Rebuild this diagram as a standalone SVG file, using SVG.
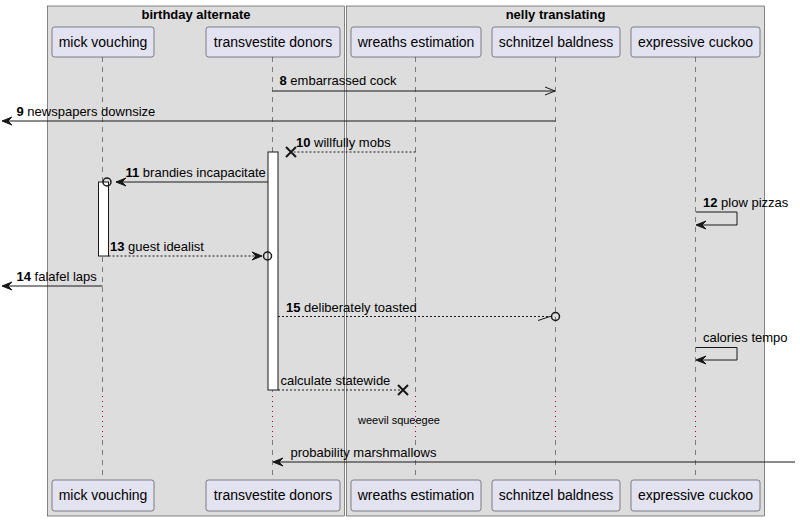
<svg xmlns="http://www.w3.org/2000/svg" width="800" height="521" viewBox="0 0 800 521">
<defs>
<style>
text{font-family:"Liberation Sans",Arial,sans-serif;fill:#000}
.box{fill:#DDDDDD;stroke:#181818;stroke-width:0.5}
.btitle{font-size:13px;font-weight:bold;text-anchor:middle}
.part rect{fill:#E2E2F0;stroke:#181818;stroke-width:0.5}
.part text{font-size:14px;text-anchor:middle}
.life{stroke:#181818;stroke-width:0.5;stroke-dasharray:5,5;fill:none}
.delay{stroke:#A80036;stroke-width:1;stroke-dasharray:1,4;fill:none}
.act{fill:#FFFFFF;stroke:#181818;stroke-width:1}
.msg{stroke:#181818;stroke-width:1;fill:none}
.dash{stroke-dasharray:2,2}
.head{fill:#181818;stroke:#181818;stroke-width:1}
.lbl{font-size:13px}
.num{font-weight:bold}
.x{stroke:#181818;stroke-width:2}
.circ{fill:none;stroke:#181818;stroke-width:1.5}
</style>
</defs>
<g id="box-birthday">
<rect class="box" x="47.5" y="6" width="297" height="510"/>
<text class="btitle" x="196" y="19">birthday alternate</text>
</g>
<g id="box-nelly">
<rect class="box" x="346.5" y="6" width="418" height="510"/>
<text class="btitle" x="555.5" y="19">nelly translating</text>
</g>
<g id="lifelines">
<path class="life" d="M102.5,57V395M102.5,440V479M272.5,57V395M272.5,440V479M415.5,57V395M415.5,440V479M555.5,57V395M555.5,440V479M695.5,57V395M695.5,440V479"/>
<path class="delay" d="M102.5,396V440M272.5,396V440M415.5,396V440M555.5,396V440M695.5,396V440"/>
</g>
<g id="p-mick" class="part">
<rect x="52" y="27" width="102" height="30" rx="2.5"/><text x="103" y="47">mick vouching</text>
<rect x="52" y="480" width="102" height="31" rx="2.5"/><text x="103" y="500">mick vouching</text>
</g>
<g id="p-transvestite" class="part">
<rect x="206" y="27" width="134" height="30" rx="2.5"/><text x="273" y="47">transvestite donors</text>
<rect x="206" y="480" width="134" height="31" rx="2.5"/><text x="273" y="500">transvestite donors</text>
</g>
<g id="p-wreaths" class="part">
<rect x="351" y="27" width="130" height="30" rx="2.5"/><text x="416" y="47">wreaths estimation</text>
<rect x="351" y="480" width="130" height="31" rx="2.5"/><text x="416" y="500">wreaths estimation</text>
</g>
<g id="p-schnitzel" class="part">
<rect x="492" y="27" width="128" height="30" rx="2.5"/><text x="556" y="47">schnitzel baldness</text>
<rect x="492" y="480" width="128" height="31" rx="2.5"/><text x="556" y="500">schnitzel baldness</text>
</g>
<g id="p-cuckoo" class="part">
<rect x="631" y="27" width="129" height="30" rx="2.5"/><text x="695.5" y="47">expressive cuckoo</text>
<rect x="631" y="480" width="129" height="31" rx="2.5"/><text x="695.5" y="500">expressive cuckoo</text>
</g>
<g id="activations">
<rect class="act" x="268" y="152" width="10" height="238"/>
<rect class="act" x="98.5" y="182" width="10" height="74"/>
</g>
<g id="connectors">
<!-- 8 -->
<line class="msg" x1="272.5" y1="91" x2="555" y2="91"/>
<path class="msg" d="M545,87L555,91L545,95"/>
<text class="lbl" x="279.5" y="85"><tspan class="num">8</tspan> embarrassed cock</text>
<!-- 9 -->
<line class="msg" x1="555.5" y1="121" x2="3" y2="121"/>
<path class="head" d="M2,121L12,117L8,121L12,125Z"/>
<text class="lbl" x="16.5" y="116"><tspan class="num">9</tspan> newspapers downsize</text>
<!-- 10 -->
<line class="msg dash" x1="415.5" y1="152" x2="294" y2="152"/>
<path class="x" d="M286,147L296,157M296,147L286,157"/>
<text class="lbl" x="296" y="147"><tspan class="num">10</tspan> willfully mobs</text>
<!-- 11 -->
<line class="msg" x1="268" y1="182" x2="116" y2="182"/>
<path class="head" d="M116,182L126,178L122,182L126,186Z"/>
<circle class="circ" cx="107" cy="182" r="4"/>
<text class="lbl" x="125.5" y="177"><tspan class="num">11</tspan> brandies incapacitate</text>
<!-- 12 -->
<path class="msg" d="M696,212H737V225H697"/>
<path class="head" d="M696,225L706,221L702,225L706,229Z"/>
<text class="lbl" x="703" y="207"><tspan class="num">12</tspan> plow pizzas</text>
<!-- 13 -->
<line class="msg dash" x1="108.5" y1="256" x2="261" y2="256"/>
<path class="head" d="M262,256L252,252L256,256L252,260Z"/>
<circle class="circ" cx="267.5" cy="256" r="4"/>
<text class="lbl" x="110" y="250.5"><tspan class="num">13</tspan> guest idealist</text>
<!-- 14 -->
<line class="msg" x1="102.5" y1="286" x2="3" y2="286"/>
<path class="head" d="M2,286L12,282L8,286L12,290Z"/>
<text class="lbl" x="16.5" y="281"><tspan class="num">14</tspan> falafel laps</text>
<!-- 15 -->
<line class="msg dash" x1="278" y1="316.5" x2="551" y2="316.5"/>
<path class="msg" d="M538,320.5L550,316.5"/>
<circle class="circ" cx="555.5" cy="316.5" r="4"/>
<text class="lbl" x="286" y="311.5"><tspan class="num">15</tspan> deliberately toasted</text>
<!-- calories tempo -->
<path class="msg" d="M696,347.5H737V360H697"/>
<path class="head" d="M696,360L706,356L702,360L706,364Z"/>
<text class="lbl" x="703" y="342">calories tempo</text>
<!-- calculate statewide -->
<line class="msg dash" x1="278" y1="390" x2="400" y2="390"/>
<path class="x" d="M398,385L408,395M408,385L398,395"/>
<text class="lbl" x="280.5" y="385">calculate statewide</text>
<!-- probability marshmallows -->
<line class="msg" x1="795" y1="462" x2="274" y2="462"/>
<path class="head" d="M273,462L283,458L279,462L283,466Z"/>
<text class="lbl" x="290.5" y="457">probability marshmallows</text>
</g>
<g id="delay-label">
<text x="399" y="423.5" style="font-size:11px;text-anchor:middle">weevil squeegee</text>
</g>
</svg>
